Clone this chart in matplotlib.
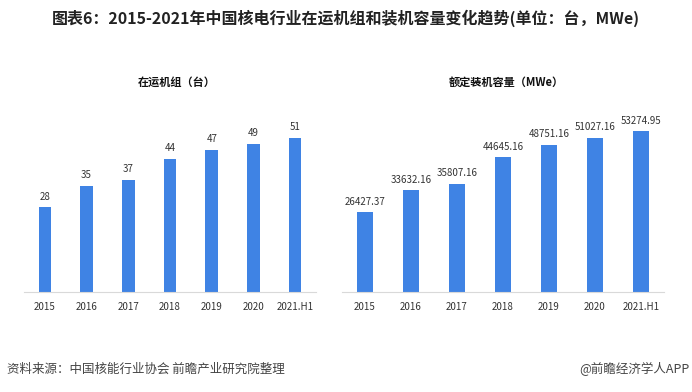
import matplotlib
matplotlib.use("Agg")
import matplotlib.pyplot as plt

plt.rcParams["font.family"] = ["Noto Sans CJK SC", "DejaVu Sans"]

# data
years = ["2015", "2016", "2017", "2018", "2019", "2020", "2021.H1"]
units = [28, 35, 37, 44, 47, 49, 51]
capacity = [26427.37, 33632.16, 35807.16, 44645.16, 48751.16, 51027.16, 53274.95]

TITLE = "图表6：2015-2021年中国核电行业在运机组和装机容量变化趋势(单位：台，MWe)"
SUB_LEFT = "在运机组（台）"
SUB_RIGHT = "额定装机容量（MWe）"
SOURCE = "资料来源：中国核能行业协会 前瞻产业研究院整理"
BRAND = "@前瞻经济学人APP"

BAR = "#3F83E4"
W, H = 692, 392

fig = plt.figure(figsize=(W / 100, H / 100), dpi=100)


def px_axes(x0, x1, y0, y1):
    return fig.add_axes([x0 / W, 1 - y1 / H, (x1 - x0) / W, (y1 - y0) / H])


def panel(ax, values, ymax, width, fmt):
    x = range(len(values))
    ax.bar(x, values, width=width, color=BAR, zorder=2)
    for xi, v in zip(x, values):
        ax.annotate(fmt(v), (xi, v), xytext=(0, 4), textcoords="offset points",
                    ha="center", va="bottom", fontsize=7, color="#333333")
    ax.set_xlim(-0.5, len(values) - 0.5)
    ax.set_ylim(0, ymax)
    ax.set_xticks(list(x))
    ax.set_xticklabels(years, fontsize=7, color="#333333")
    ax.tick_params(axis="x", length=0, pad=7)
    ax.set_yticks([])
    for side in ("top", "right", "left"):
        ax.spines[side].set_visible(False)
    ax.spines["bottom"].set_color("#d9d9d9")
    ax.spines["bottom"].set_linewidth(0.8)
    ax.patch.set_alpha(0)


ax1 = px_axes(24, 316, 100, 292)
panel(ax1, units, 63.4, 0.30, lambda v: f"{v:d}")

ax2 = px_axes(342, 664, 100, 292)
panel(ax2, capacity, 63600, 0.33, lambda v: f"{v:.2f}")

fig.text(346 / W, 1 - 18 / H, TITLE, ha="center", va="center",
         fontsize=11.5, fontweight="bold", color="#222222")
fig.text(177 / W, 1 - 82 / H, SUB_LEFT, ha="center", va="center",
         fontsize=8, fontweight="bold", color="#111111")
fig.text(506 / W, 1 - 82 / H, SUB_RIGHT, ha="center", va="center",
         fontsize=8, fontweight="bold", color="#111111")
fig.text(7 / W, 1 - 369 / H, SOURCE, ha="left", va="center",
         fontsize=9, color="#444444")
fig.text(690 / W, 1 - 369 / H, BRAND, ha="right", va="center",
         fontsize=9, color="#444444")

fig.savefig("out.png", dpi=100)
